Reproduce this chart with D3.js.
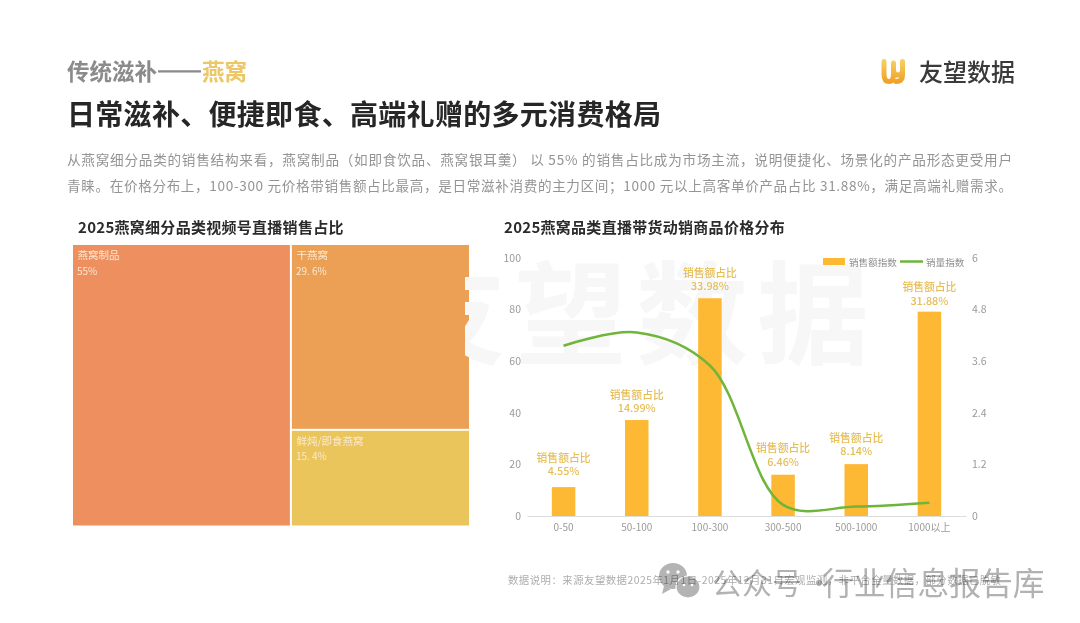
<!DOCTYPE html>
<html lang="zh-CN">
<head>
<meta charset="UTF-8">
<title>燕窝</title>
<script src="https://cdn.jsdelivr.net/npm/d3@7"></script>
<style>
html, body { margin: 0; padding: 0; background: #fff; overflow: hidden; }
svg text { font-family: "Noto Sans CJK SC", "Noto Sans", sans-serif; }
</style>
</head>
<body>
<script>

var w = 1080;
var h = 623;

// treemap
var treeNames = ["燕窝制品", "干燕窝", "鲜炖/即食燕窝"];
var treeValues = [55, 29.6, 15.4];
var treeLabels = ["55%", "29. 6%", "15. 4%"];
var treeColors = ["#ee8f60", "#eca055", "#e9c55c"];

// bar + line
var priceBands = ["0-50", "50-100", "100-300", "300-500", "500-1000", "1000以上"];
var salesIndex = [11.2, 37.2, 84.4, 16, 20.1, 79.2];
var volumeIndex = [3.96, 4.27, 3.5, 0.26, 0.22, 0.31];
var shareLabels = ["4.55%", "14.99%", "33.98%", "6.46%", "8.14%", "31.88%"];
var leftTicks = [0, 20, 40, 60, 80, 100];
var rightTicks = [0, 1.2, 2.4, 3.6, 4.8, 6];

var bodyLines = [
    "从燕窝细分品类的销售结构来看，燕窝制品（如即食饮品、燕窝银耳羹） 以 55% 的销售占比成为市场主流，说明便捷化、场景化的产品形态更受用户",
    "青睐。在价格分布上，100-300 元价格带销售额占比最高，是日常滋补消费的主力区间；1000 元以上高客单价产品占比 31.88%，满足高端礼赠需求。"
];

var svg = d3.select("body").append("svg")
    .attr("width", w)
    .attr("height", h)
    .style("display", "block");

function label(x, y, str, size, color, weight, anchor) {
    return svg.append("text")
        .attr("x", x)
        .attr("y", y)
        .attr("font-size", size)
        .attr("fill", color)
        .attr("font-weight", weight || 400)
        .attr("text-anchor", anchor || "start")
        .attr("dominant-baseline", "central")
        .text(str);
}

// header
var kicker = label(67, 70, "传统滋补", 22.5, "#8b8b8b", 700);
kicker.append("tspan").attr("stroke", "#8b8b8b").attr("stroke-width", 1.2).text("——");
kicker.append("tspan").attr("fill", "#ecc765").text("燕窝");
label(67, 113, "日常滋补、便捷即食、高端礼赠的多元消费格局", 28, "#262626", 700).attr("letter-spacing", 0.3);
bodyLines.forEach(function (t, i) {
    label(67, 158.5 + i * 26, t, 13.6, "#949494")
        .attr("textLength", 945)
        .attr("lengthAdjust", "spacing");
});
label(78, 226.5, "2025燕窝细分品类视频号直播销售占比", 15, "#2b2b2b", 700).attr("letter-spacing", 0.28);
label(504, 226.5, "2025燕窝品类直播带货动销商品价格分布", 15, "#2b2b2b", 700).attr("letter-spacing", 0.28);

// logo
var defs = svg.append("defs");
var grad = defs.append("linearGradient").attr("id", "logoGrad")
    .attr("x1", 0).attr("y1", 0).attr("x2", 0).attr("y2", 1);
grad.append("stop").attr("offset", "0%").attr("stop-color", "#f6cf5e");
grad.append("stop").attr("offset", "100%").attr("stop-color", "#efa22a");
svg.append("path")
    .attr("d", "M884,61.5V74Q884,81.5 889,81.5Q893.5,81.5 893.5,74V63M893.5,66V70Q893.5,75 898,75Q902.5,75 902.5,70V61.5M902.5,70V75Q902.5,81.5 896,81.5")
    .attr("fill", "none")
    .attr("stroke", "url(#logoGrad)")
    .attr("stroke-width", 5)
    .attr("stroke-linecap", "round")
    .attr("stroke-linejoin", "round");
label(919, 70, "友望数据", 24, "#3a3a3a", 500);

// treemap, left chart
var treeData = d3.hierarchy({
    children: treeNames.map(function (n, i) {
        return {name: n, value: treeValues[i], label: treeLabels[i], color: treeColors[i]};
    })
}).sum(function (d) { return d.value; });

d3.treemap()
    .tile(d3.treemapBinary)
    .size([396, 280.5])
    .paddingInner(2)(treeData);

var cells = svg.append("g")
    .attr("transform", "translate(73,245)")
    .selectAll("g")
    .data(treeData.leaves())
    .enter()
    .append("g")
    .attr("transform", function (d) { return "translate(" + d.x0 + "," + d.y0 + ")"; });

cells.append("rect")
    .attr("width", function (d) { return d.x1 - d.x0; })
    .attr("height", function (d) { return d.y1 - d.y0; })
    .attr("fill", function (d) { return d.data.color; });

cells.append("text")
    .attr("x", 4.5)
    .attr("y", 9.5)
    .attr("font-size", 10.5)
    .attr("fill", "#fbe8d0")
    .attr("dominant-baseline", "central")
    .text(function (d) { return d.data.name; });

cells.append("text")
    .attr("x", 4)
    .attr("y", 25)
    .attr("font-size", 10)
    .attr("fill", "#fbe8d0")
    .attr("dominant-baseline", "central")
    .text(function (d) { return d.data.label; });

// faint brand mark behind the right chart, cut off at the bottom
defs.append("clipPath").attr("id", "markClip")
    .append("rect").attr("x", 465).attr("y", 250).attr("width", 405).attr("height", 118);
svg.append("text")
    .attr("clip-path", "url(#markClip)")
    .attr("x", 394)
    .attr("y", 356)
    .attr("font-size", 112)
    .attr("font-weight", 700)
    .attr("letter-spacing", 9)
    .attr("fill", "#f7f7f7")
    .text("友望数据");

// bar + line, right chart
var x = d3.scaleBand().domain(priceBands).range([527, 966]);
var yL = d3.scaleLinear().domain([0, 100]).range([516, 258]);
var yR = d3.scaleLinear().domain([0, 6]).range([516, 258]);
var barW = 23.5;

var xAxis = svg.append("g")
    .attr("transform", "translate(0,516)")
    .call(d3.axisBottom(x).tickSize(0).tickPadding(8));
xAxis.select(".domain").attr("stroke", "#dcdcdc");
xAxis.selectAll("text").attr("font-size", 10).attr("fill", "#9a9a9a");

var leftAxis = svg.append("g")
    .attr("transform", "translate(521,0)")
    .call(d3.axisLeft(yL).tickValues(leftTicks).tickSize(0).tickPadding(0));
leftAxis.select(".domain").remove();
leftAxis.selectAll("text").attr("font-size", 10.5).attr("fill", "#9a9a9a");

var rightAxis = svg.append("g")
    .attr("transform", "translate(972,0)")
    .call(d3.axisRight(yR).tickValues(rightTicks).tickFormat(function (d) { return d; }).tickSize(0).tickPadding(0));
rightAxis.select(".domain").remove();
rightAxis.selectAll("text").attr("font-size", 10.5).attr("fill", "#9a9a9a");

svg.append("g").selectAll("rect")
    .data(priceBands)
    .enter()
    .append("rect")
    .attr("x", function (d) { return x(d) + x.bandwidth() / 2 - barW / 2; })
    .attr("y", function (d, i) { return yL(salesIndex[i]); })
    .attr("width", barW)
    .attr("height", function (d, i) { return yL(0) - yL(salesIndex[i]); })
    .attr("fill", "#fdb933");

// gap between each bar top and its two-line label
var labelLift = [17, 13, 13, 14, 14, 12];
priceBands.forEach(function (d, i) {
    var cx = x(d) + x.bandwidth() / 2;
    var top = yL(salesIndex[i]) - labelLift[i];
    label(cx, top - 13.5, "销售额占比", 10.8, "#e6be57", 500, "middle");
    label(cx, top, shareLabels[i], 10.8, "#e6be57", 500, "middle");
});

var line = d3.line()
    .x(function (d) { return x(d) + x.bandwidth() / 2; })
    .y(function (d, i) { return yR(volumeIndex[i]); })
    .curve(d3.curveCatmullRom);
svg.append("path")
    .datum(priceBands)
    .attr("d", line)
    .attr("fill", "none")
    .attr("stroke", "#6fb53a")
    .attr("stroke-width", 2.5);

// legend
svg.append("rect").attr("x", 823).attr("y", 258).attr("width", 22).attr("height", 7).attr("fill", "#fdb933");
label(849, 261.5, "销售额指数", 9.6, "#8f8f8f");
svg.append("line").attr("x1", 900).attr("x2", 923).attr("y1", 261.5).attr("y2", 261.5)
    .attr("stroke", "#6fb53a").attr("stroke-width", 2.5);
label(926, 261.5, "销量指数", 9.6, "#8f8f8f");

// wechat stamp, the footnote runs across it
var stamp = svg.append("g").attr("fill", "#b4b4b4");
stamp.append("ellipse").attr("cx", 673).attr("cy", 576).attr("rx", 14).attr("ry", 13);
stamp.append("path").attr("d", "M664,586L662,594L671,589Z");
stamp.append("ellipse").attr("cx", 688).attr("cy", 587).attr("rx", 12).attr("ry", 11).attr("stroke", "#fff").attr("stroke-width", 1.2);
stamp.append("circle").attr("cx", 668).attr("cy", 572).attr("r", 1.7).attr("fill", "#fff");
stamp.append("circle").attr("cx", 678).attr("cy", 572).attr("r", 1.7).attr("fill", "#fff");
stamp.append("circle").attr("cx", 684).attr("cy", 585).attr("r", 1.3).attr("fill", "#fff");
stamp.append("circle").attr("cx", 692).attr("cy", 585).attr("r", 1.3).attr("fill", "#fff");
label(712, 581, "公众号", 30, "#b2b2b2");
label(804, 581, "·", 30, "#b2b2b2");
label(822, 581, "行业信息报告库", 31.8, "#b2b2b2");

label(508, 579, "数据说明：来源友望数据2025年1月1日-2025年12月31日宏观监测，非平台全量数据，部分数据已脱敏", 10.4, "#adadad")
    .attr("textLength", 493)
    .attr("lengthAdjust", "spacing")
    .style("mix-blend-mode", "multiply");

</script>
</body>
</html>
